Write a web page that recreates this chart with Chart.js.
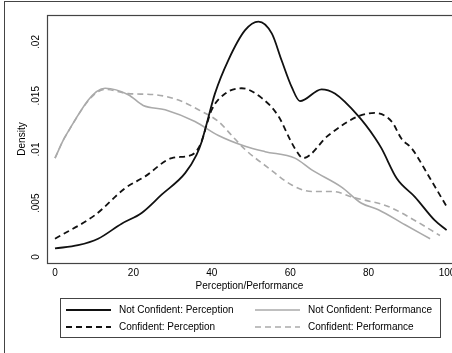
<!DOCTYPE html>
<html>
<head>
<meta charset="utf-8">
<script src="https://cdn.jsdelivr.net/npm/chart.js@4/dist/chart.umd.min.js"></script>
<style>
  html, body { margin: 0; padding: 0; background: #fff; overflow: hidden; }
  #wrap { position: relative; width: 452px; height: 353px; }
  #frame { position: absolute; left: 4px; top: 1px; right: 0; bottom: 0; border-left: 1px solid #444; border-top: 1px solid #444; pointer-events: none; }
  canvas { position: absolute; left: 0; top: 0; }
</style>
</head>
<body>
<div id="wrap">
  <canvas id="chart" width="452" height="353"></canvas>
  <div id="frame"></div>
</div>
<script>
// values
const xTicks = [0, 20, 40, 60, 80, 100];
const yTicks = [0, 0.005, 0.01, 0.015, 0.02];
const yTickLabels = ["0", ".005", ".01", ".015", ".02"];

const ncPercX = [0, 5.9, 11, 17, 22.1, 27.2, 33.2, 36.1, 37.4, 38.7, 40.8, 44.2, 48.5, 51.9, 55.3, 57.8, 60.4, 62.5, 68, 71.4, 77.4, 81.6, 83.3, 87.2, 91.8, 96.9, 99.9];
const ncPercY = [0.0008, 0.0011, 0.0017, 0.0031, 0.0041, 0.0058, 0.0078, 0.0095, 0.0107, 0.0124, 0.0152, 0.0183, 0.0211, 0.0219, 0.0208, 0.0183, 0.0158, 0.0145, 0.0156, 0.0152, 0.0131, 0.0111, 0.0101, 0.0073, 0.0056, 0.0034, 0.0025];

const ncPerfX = [0, 2.6, 12.8, 18.7, 22.5, 28.1, 35.7, 41.7, 48.5, 53.6, 61.2, 65.5, 73.1, 78.2, 82.5, 89.3, 95.7];
const ncPerfY = [0.0092, 0.0112, 0.0157, 0.0151, 0.0141, 0.0137, 0.0126, 0.0113, 0.0103, 0.0098, 0.0092, 0.0081, 0.0065, 0.0050, 0.0044, 0.0030, 0.0017];

const cPercX = [0, 10.2, 17.9, 23, 29.8, 34.9, 37, 40, 43.4, 47.6, 52.7, 57, 60, 61.2, 63.3, 69.7, 77.4, 81.6, 85.9, 88.4, 91, 95.7, 99.9];
const cPercY = [0.0017, 0.0039, 0.0064, 0.0075, 0.0092, 0.0095, 0.0104, 0.0137, 0.0152, 0.0157, 0.0148, 0.0131, 0.0109, 0.0101, 0.0092, 0.0113, 0.0131, 0.0134, 0.0126, 0.0110, 0.0101, 0.0073, 0.0047];

const cPerfX = [0, 2.6, 12.8, 18.7, 25.5, 31.5, 36.6, 41.7, 45.1, 48.5, 54.4, 60.4, 65.5, 70.6, 76.5, 85, 91.8, 98.2];
const cPerfY = [0.0092, 0.0112, 0.0156, 0.0152, 0.0151, 0.0146, 0.0137, 0.0126, 0.0113, 0.0100, 0.0083, 0.0067, 0.0061, 0.0061, 0.0055, 0.0047, 0.0034, 0.0020];

const FONT = "'Liberation Sans', Arial, sans-serif";
const pts = (xs, ys) => xs.map((x, i) => ({ x, y: ys[i] }));

function series(label, xs, ys, color, width, dash) {
  return {
    label,
    data: pts(xs, ys),
    borderColor: color,
    borderWidth: width,
    borderDash: dash,
    pointRadius: 0,
    fill: false,
    cubicInterpolationMode: "monotone"
  };
}

// plot box + legend box (legend built from the datasets)
const framePlugin = {
  id: "frame",
  afterDraw(chart) {
    const { ctx, chartArea: a } = chart;
    ctx.save();
    ctx.strokeStyle = "#444";
    ctx.lineWidth = 1.2;
    ctx.strokeRect(a.left + 0.5, a.top + 0.5, a.right - a.left + 4, a.bottom - a.top);

    const box = { x: 60.5, y: 298.5, w: 380, h: 39 };
    ctx.lineWidth = 1;
    ctx.strokeRect(box.x, box.y, box.w, box.h);
    const cols = [66, 255];
    const rows = [310, 327];
    ctx.font = "10px " + FONT;
    ctx.textBaseline = "middle";
    ctx.fillStyle = "#000";
    chart.data.datasets.forEach((ds, i) => {
      const cx = cols[i % 2];
      const cy = rows[Math.floor(i / 2)];
      ctx.strokeStyle = ds.borderColor;
      ctx.lineWidth = ds.borderWidth;
      ctx.setLineDash(ds.borderDash || []);
      ctx.beginPath();
      ctx.moveTo(cx, cy);
      ctx.lineTo(cx + 45, cy);
      ctx.stroke();
      ctx.fillText(ds.label, cx + 53, cy);
    });
    ctx.restore();
  }
};

new Chart(document.getElementById("chart"), {
  type: "line",
  data: {
    datasets: [
      series("Not Confident: Perception", ncPercX, ncPercY, "#111", 1.8, []),
      series("Not Confident: Performance", ncPerfX, ncPerfY, "#aaa", 1.6, []),
      series("Confident: Perception", cPercX, cPercY, "#111", 1.8, [6, 4]),
      series("Confident: Performance", cPerfX, cPerfY, "#aaa", 1.6, [6, 4])
    ]
  },
  options: {
    responsive: false,
    animation: false,
    layout: { padding: { left: 0, top: 15, right: 0, bottom: 60 } },
    plugins: { legend: { display: false }, tooltip: { enabled: false } },
    scales: {
      x: {
        type: "linear",
        min: -2.04,
        max: 101.28,
        afterBuildTicks: (s) => { s.ticks = xTicks.map((v) => ({ value: v })); },
        afterFit: (s) => { s.height = 30; s.paddingLeft = 0; s.paddingRight = 0; },
        grid: { display: false, drawTicks: false },
        border: { display: false },
        ticks: { padding: 4, color: "#000", font: { family: FONT, size: 10 } },
        title: { display: true, text: "Perception/Performance", color: "#000", font: { family: FONT, size: 10 }, padding: { top: 0, bottom: 1 } }
      },
      y: {
        type: "linear",
        min: -0.000558,
        max: 0.022512,
        afterBuildTicks: (s) => { s.ticks = yTicks.map((v) => ({ value: v })); },
        afterFit: (s) => { s.width = 47; s.paddingTop = 0; s.paddingBottom = 0; },
        grid: { display: false, drawTicks: false },
        border: { display: false },
        ticks: {
          autoSkip: false,
          minRotation: 90,
          maxRotation: 90,
          crossAlign: "center",
          padding: 1,
          color: "#000",
          font: { family: FONT, size: 10 },
          callback: (v) => yTickLabels[yTicks.indexOf(v)] ?? ""
        },
        title: { display: true, text: "Density", color: "#000", font: { family: FONT, size: 10 }, padding: { top: 16, bottom: 0 } }
      }
    }
  },
  plugins: [framePlugin]
});
</script>
</body>
</html>
